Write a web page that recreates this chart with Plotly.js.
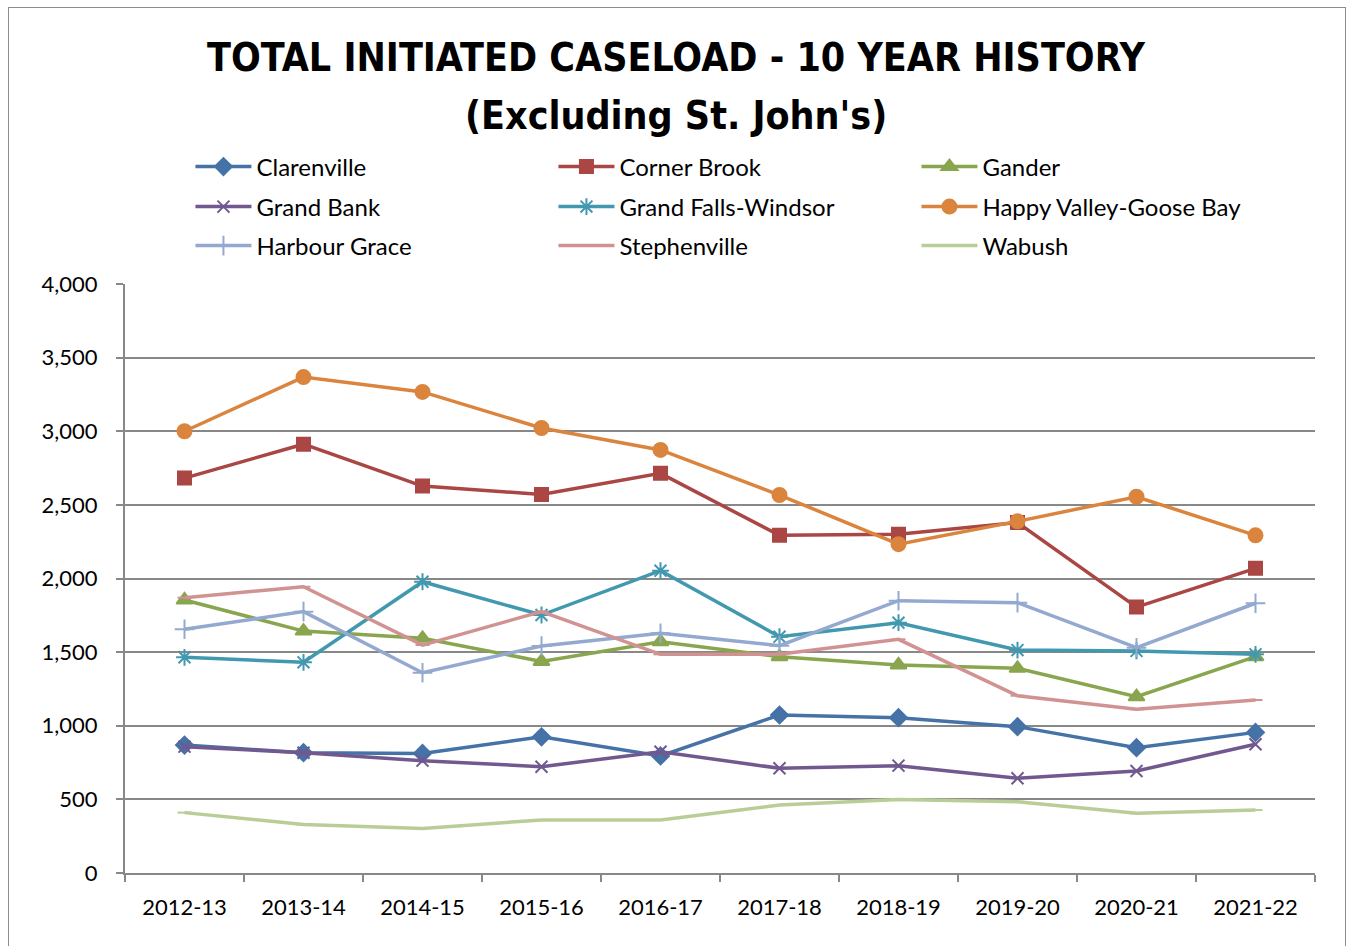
<!DOCTYPE html>
<html>
<head>
<meta charset="utf-8">
<script src="https://cdn.plot.ly/plotly-3.0.1.min.js"></script>
<style>
  html, body { margin: 0; padding: 0; background: #fff; }
  #frame { position: absolute; left: 8px; top: 7px; width: 1338px; height: 960px; border: 1px solid #8c8c8c; box-sizing: border-box; }
  #chart { position: absolute; left: 0; top: 0; width: 1352px; height: 946px; }
</style>
</head>
<body>
<div id="frame"></div>
<div id="chart"></div>
<script>
const years = ["2012-13","2013-14","2014-15","2015-16","2016-17","2017-18","2018-19","2019-20","2020-21","2021-22"];

const clarenville   = [869, 817, 812, 925, 795, 1073, 1055, 994, 851, 955];
const cornerBrook   = [2682, 2912, 2628, 2571, 2714, 2293, 2300, 2380, 1806, 2069];
const gander        = [1854, 1643, 1594, 1437, 1571, 1469, 1413, 1390, 1197, 1469];
const grandBank     = [858, 817, 763, 722, 824, 711, 729, 643, 693, 874];
const grandFalls    = [1465, 1431, 1978, 1752, 2053, 1605, 1700, 1514, 1508, 1485];
const happyValley   = [3000, 3368, 3267, 3022, 2873, 2567, 2233, 2388, 2555, 2293];
const harbourGrace  = [1655, 1775, 1360, 1542, 1628, 1544, 1849, 1836, 1530, 1832];
const stephenville  = [1870, 1944, 1548, 1775, 1485, 1485, 1587, 1204, 1112, 1175];
const wabush        = [410, 330, 303, 360, 360, 462, 500, 484, 405, 428];

const yTickVals = [0, 500, 1000, 1500, 2000, 2500, 3000, 3500, 4000];
const yTickText = ["0","500","1,000","1,500","2,000","2,500","3,000","3,500","4,000"];

const seriesNames = ["Clarenville","Corner Brook","Gander","Grand Bank","Grand Falls-Windsor","Happy Valley-Goose Bay","Harbour Grace","Stephenville","Wabush"];
const seriesData = [clarenville, cornerBrook, gander, grandBank, grandFalls, happyValley, harbourGrace, stephenville, wabush];
const colors = ["#4572A7","#AA4643","#89A54E","#71588F","#4198AF","#DB843D","#93A9CF","#D19392","#B9CD96"];
const symbols = ["diamond","square","triangle-up","x-thin-open","asterisk-open","circle","cross-thin-open","line-ew-open","line-ew-open"];
const sizes = [13, 13, 14, 12, 14, 14, 14, 10, 10];
const legendIds = ["legend","legend","legend","legend2","legend2","legend2","legend3","legend3","legend3"];

const FONT = "Lato, 'Liberation Sans', sans-serif";
const TITLE_FONT = "'DejaVu Sans Condensed', 'DejaVu Sans', sans-serif";

const traces = seriesNames.map((name, i) => ({
  type: "scatter",
  mode: "lines+markers",
  name: name,
  legend: legendIds[i],
  x: years,
  y: seriesData[i],
  line: { color: colors[i], width: 3.5 },
  marker: { symbol: symbols[i], size: sizes[i], color: colors[i], line: { color: colors[i], width: 2 } }
}));

function legendRow(yPaper) {
  return {
    orientation: "h",
    x: 0.055, xanchor: "left",
    y: yPaper, yanchor: "middle",
    entrywidth: 292, entrywidthmode: "pixels",
    itemwidth: 56,
    font: { family: FONT, size: 24, color: "#000" },
    bgcolor: "rgba(0,0,0,0)"
  };
}

const layout = {
  width: 1352,
  height: 946,
  paper_bgcolor: "rgba(0,0,0,0)",
  plot_bgcolor: "rgba(0,0,0,0)",
  margin: { l: 125, r: 37, t: 284, b: 73 },
  title: {
    text: "TOTAL INITIATED CASELOAD - 10 YEAR HISTORY",
    font: { family: TITLE_FONT, size: 39, color: "#000", weight: "bold" },
    x: 0.5, xanchor: "center",
    y: 1 - 57 / 946, yanchor: "middle", yref: "container"
  },
  annotations: [{
    text: "(Excluding St. John's)",
    font: { family: TITLE_FONT, size: 39, color: "#000", weight: "bold" },
    xref: "paper", yref: "paper",
    x: (676 - 125) / 1190, xanchor: "center",
    y: (873 - 115) / 589, yanchor: "middle",
    showarrow: false
  }],
  showlegend: true,
  legend: legendRow((873 - 167) / 589),
  legend2: legendRow((873 - 207) / 589),
  legend3: legendRow((873 - 246) / 589),
  xaxis: {
    type: "category",
    range: [-0.5, 9.5],
    tickson: "boundaries",
    ticks: "outside",
    ticklen: 7,
    tickcolor: "#888",
    tickwidth: 2,
    showline: true,
    linecolor: "#888",
    linewidth: 2,
    showgrid: false,
    ticklabelstandoff: 14,
    tickfont: { family: FONT, size: 22, color: "#000" },
    fixedrange: true
  },
  yaxis: {
    range: [0, 4000],
    tickvals: yTickVals,
    ticktext: yTickText,
    ticks: "outside",
    ticklen: 7,
    tickcolor: "#888",
    tickwidth: 2,
    showline: true,
    linecolor: "#888",
    linewidth: 2,
    showgrid: true,
    gridcolor: "#888",
    gridwidth: 2,
    zeroline: false,
    ticklabelstandoff: 14,
    tickfont: { family: FONT, size: 22, color: "#000" },
    fixedrange: true
  }
};

Plotly.newPlot("chart", traces, layout, { displayModeBar: false, staticPlot: true });
</script>
</body>
</html>
